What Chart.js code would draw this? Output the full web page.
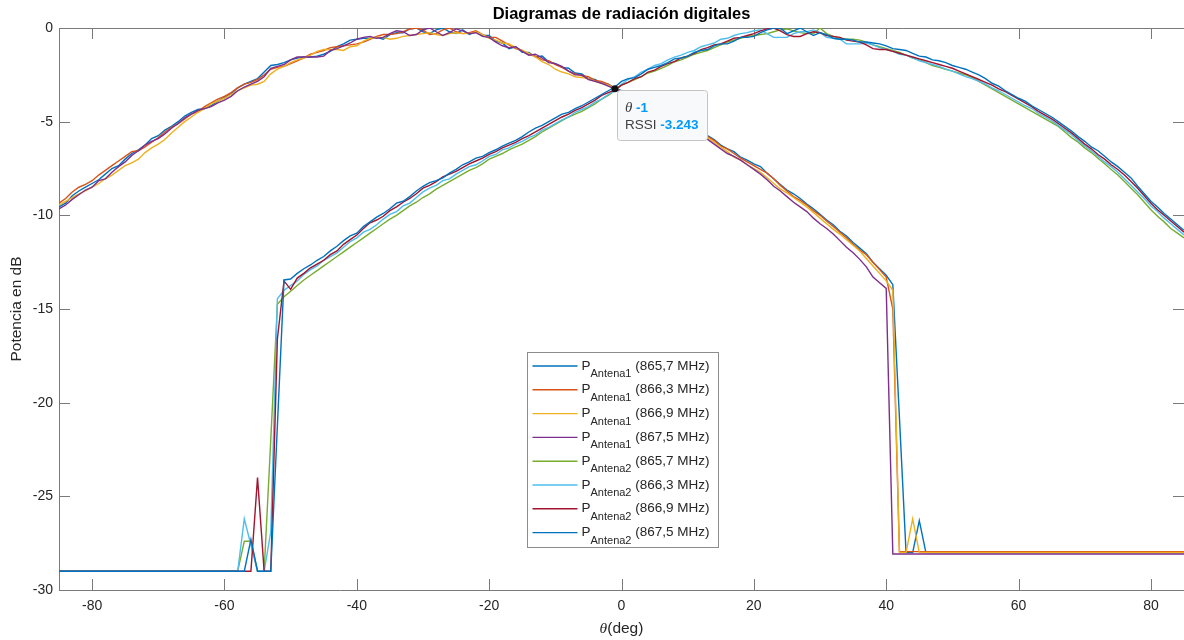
<!DOCTYPE html>
<html lang="es">
<head>
<meta charset="utf-8">
<title>Diagramas de radiación digitales</title>
<script src="https://cdn.jsdelivr.net/npm/chart.js@4.4.1/dist/chart.umd.min.js"></script>
<style>
  html, body { margin: 0; padding: 0; background: #ffffff; }
  #grafico { display: block; }
</style>
</head>
<body>
<canvas id="grafico" width="1184" height="640"></canvas>
<script>
// Ángulos de medida (grados)
const thetaDeg = [
  -85, -84, -83, -82, -81, -80, -79, -78, -77, -76,
  -75, -74, -73, -72, -71, -70, -69, -68, -67, -66,
  -65, -64, -63, -62, -61, -60, -59, -58, -57, -56,
  -55, -54, -53, -52, -51, -50, -49, -48, -47, -46,
  -45, -44, -43, -42, -41, -40, -39, -38, -37, -36,
  -35, -34, -33, -32, -31, -30, -29, -28, -27, -26,
  -25, -24, -23, -22, -21, -20, -19, -18, -17, -16,
  -15, -14, -13, -12, -11, -10, -9, -8, -7, -6,
  -5, -4, -3, -2, -1, 0, 1, 2, 3, 4,
  5, 6, 7, 8, 9, 10, 11, 12, 13, 14,
  15, 16, 17, 18, 19, 20, 21, 22, 23, 24,
  25, 26, 27, 28, 29, 30, 31, 32, 33, 34,
  35, 36, 37, 38, 39, 40, 41, 42, 43, 44,
  45, 46, 47, 48, 49, 50, 51, 52, 53, 54,
  55, 56, 57, 58, 59, 60, 61, 62, 63, 64,
  65, 66, 67, 68, 69, 70, 71, 72, 73, 74,
  75, 76, 77, 78, 79, 80, 81, 82, 83, 84,
  85
];

// Antena 1, potencia normalizada (dB)
const ant1_8657 = [
  -9.55, -9.35, -8.95, -8.7, -8.5, -8.3, -8.1, -7.8, -7.5, -7.35,
  -7.0, -6.7, -6.5, -6.25, -5.9, -5.75, -5.45, -5.25, -5.0, -4.7,
  -4.5, -4.35, -4.3, -4.15, -3.9, -3.7, -3.5, -3.2, -3.0, -2.85,
  -2.7, -2.35, -2.0, -1.95, -1.85, -1.7, -1.6, -1.55, -1.55, -1.5,
  -1.4, -1.25, -1.0, -0.85, -0.65, -0.6, -0.55, -0.55, -0.5, -0.6,
  -0.35, -0.25, -0.25, -0.05, 0, -0.2, -0.3, -0.1, 0, -0.2,
  -0.3, -0.1, -0.35, -0.2, -0.4, -0.4, -0.7, -0.8, -1.1, -1.0,
  -1.3, -1.3, -1.55, -1.5, -1.8, -1.9, -2.1, -2.15, -2.4, -2.45,
  -2.7, -2.75, -2.95, -3.0, -3.2, -3.35, -3.5, -3.7, -3.8, -4.0,
  -4.15, -4.35, -4.5, -4.7, -4.85, -5.05, -5.25, -5.5, -5.75, -5.95,
  -6.25, -6.45, -6.6, -6.9, -7.05, -7.25, -7.4, -7.75, -8.05, -8.35,
  -8.65, -8.85, -9.1, -9.4, -9.65, -9.95, -10.25, -10.5, -10.85, -11.1,
  -11.45, -11.75, -12.05, -12.5, -12.85, -13.2, -13.7, -20.8, -28, -28,
  -26.3, -28, -28, -28, -28, -28, -28, -28, -28, -28,
  -28, -28, -28, -28, -28, -28, -28, -28, -28, -28,
  -28, -28, -28, -28, -28, -28, -28, -28, -28, -28,
  -28, -28, -28, -28, -28, -28, -28, -28, -28, -28,
  -28
];

const ant1_8663 = [
  -9.35, -9.1, -8.75, -8.5, -8.35, -8.15, -7.85, -7.6, -7.35, -7.1,
  -6.85, -6.6, -6.55, -6.35, -6.1, -5.85, -5.55, -5.3, -5.1, -4.85,
  -4.6, -4.45, -4.2, -4.0, -3.8, -3.65, -3.45, -3.2, -3.0, -2.9,
  -2.75, -2.5, -2.2, -2.1, -2.05, -1.9, -1.75, -1.6, -1.4, -1.3,
  -1.2, -1.05, -1.0, -0.95, -0.9, -0.85, -0.75, -0.6, -0.45, -0.35,
  -0.35, -0.3, -0.2, -0.05, 0, -0.1, -0.35, -0.3, -0.1, 0,
  -0.2, -0.3, -0.25, -0.15, -0.35, -0.5, -0.5, -0.7, -0.9, -1.1,
  -1.2, -1.4, -1.5, -1.7, -1.75, -1.95, -2.1, -2.3, -2.45, -2.55,
  -2.6, -2.8, -2.85, -3.0, -3.25, -3.4, -3.55, -3.75, -3.9, -4.05,
  -4.2, -4.4, -4.55, -4.7, -4.95, -5.1, -5.3, -5.5, -5.8, -6.0,
  -6.3, -6.45, -6.7, -6.95, -7.15, -7.35, -7.55, -7.75, -8.05, -8.4,
  -8.7, -9.0, -9.2, -9.45, -9.75, -10.0, -10.3, -10.6, -10.9, -11.2,
  -11.55, -11.85, -12.1, -12.5, -12.9, -13.3, -15.0, -27.95, -27.95, -27.95,
  -27.95, -27.95, -27.95, -27.95, -27.95, -27.95, -27.95, -27.95, -27.95, -27.95,
  -27.95, -27.95, -27.95, -27.95, -27.95, -27.95, -27.95, -27.95, -27.95, -27.95,
  -27.95, -27.95, -27.95, -27.95, -27.95, -27.95, -27.95, -27.95, -27.95, -27.95,
  -27.95, -27.95, -27.95, -27.95, -27.95, -27.95, -27.95, -27.95, -27.95, -27.95,
  -27.95
];

const ant1_8669 = [
  -9.45, -9.25, -9.05, -8.85, -8.7, -8.5, -8.3, -8.05, -7.85, -7.6,
  -7.35, -7.2, -7.0, -6.65, -6.4, -6.2, -5.95, -5.6, -5.3, -5.0,
  -4.75, -4.5, -4.3, -4.05, -3.9, -3.75, -3.55, -3.35, -3.2, -3.05,
  -3.0, -2.85, -2.45, -2.2, -2.05, -1.85, -1.7, -1.6, -1.45, -1.25,
  -1.15, -1.15, -1.15, -1.2, -1.0, -0.95, -0.7, -0.55, -0.5, -0.5,
  -0.6, -0.55, -0.45, -0.4, -0.35, -0.3, -0.25, -0.35, -0.4, -0.3,
  -0.25, -0.3, -0.3, -0.2, -0.35, -0.55, -0.65, -0.8, -0.85, -1.05,
  -1.2, -1.35, -1.55, -1.8, -1.95, -2.2, -2.35, -2.45, -2.6, -2.65,
  -2.7, -2.85, -2.95, -3.05, -3.2, -3.45, -3.6, -3.75, -3.95, -4.1,
  -4.3, -4.45, -4.6, -4.8, -4.95, -5.15, -5.35, -5.6, -5.85, -6.1,
  -6.35, -6.6, -6.9, -7.05, -7.3, -7.5, -7.7, -8.0, -8.3, -8.6,
  -8.8, -9.05, -9.3, -9.55, -9.85, -10.15, -10.45, -10.75, -11.0, -11.3,
  -11.6, -11.9, -12.3, -12.7, -13.1, -13.5, -14.0, -28, -28, -26.2,
  -28, -28, -28, -28, -28, -28, -28, -28, -28, -28,
  -28, -28, -28, -28, -28, -28, -28, -28, -28, -28,
  -28, -28, -28, -28, -28, -28, -28, -28, -28, -28,
  -28, -28, -28, -28, -28, -28, -28, -28, -28, -28,
  -28
];

const ant1_8675 = [
  -9.65, -9.45, -9.15, -8.9, -8.65, -8.5, -8.15, -8.05, -7.7, -7.4,
  -7.15, -6.8, -6.55, -6.25, -6.05, -5.9, -5.65, -5.35, -5.1, -4.8,
  -4.6, -4.4, -4.3, -4.2, -4.0, -3.85, -3.65, -3.35, -3.15, -3.0,
  -2.85, -2.6, -2.15, -2.05, -1.95, -1.7, -1.55, -1.55, -1.55, -1.55,
  -1.5, -1.2, -1.1, -0.95, -0.8, -0.6, -0.5, -0.45, -0.55, -0.5,
  -0.3, -0.15, -0.2, -0.4, -0.35, -0.1, 0, -0.2, -0.4, -0.25,
  -0.05, -0.15, -0.3, -0.25, -0.45, -0.5, -0.75, -0.95, -1.05, -1.0,
  -1.25, -1.45, -1.4, -1.6, -1.85, -1.9, -2.05, -2.3, -2.5, -2.5,
  -2.75, -2.85, -2.95, -3.1, -3.243, -3.4, -3.6, -3.8, -3.95, -4.15,
  -4.3, -4.5, -4.7, -4.85, -5.05, -5.3, -5.55, -5.75, -5.95, -6.2,
  -6.45, -6.7, -6.85, -7.05, -7.3, -7.55, -7.8, -8.1, -8.45, -8.7,
  -9.0, -9.3, -9.55, -9.8, -10.15, -10.45, -10.7, -11.0, -11.35, -11.7,
  -12.0, -12.35, -12.75, -13.3, -13.6, -13.9, -28.08, -28.08, -28.08, -28.08,
  -28.08, -28.08, -28.08, -28.08, -28.08, -28.08, -28.08, -28.08, -28.08, -28.08,
  -28.08, -28.08, -28.08, -28.08, -28.08, -28.08, -28.08, -28.08, -28.08, -28.08,
  -28.08, -28.08, -28.08, -28.08, -28.08, -28.08, -28.08, -28.08, -28.08, -28.08,
  -28.08, -28.08, -28.08, -28.08, -28.08, -28.08, -28.08, -28.08, -28.08, -28.08,
  -28.08
];

// Antena 2, potencia normalizada (dB)
const ant2_8657 = [
  -29, -29, -29, -29, -29, -29, -29, -29, -29, -29,
  -29, -29, -29, -29, -29, -29, -29, -29, -29, -29,
  -29, -29, -29, -29, -29, -29, -29, -29, -27.4, -27.4,
  -29, -29, -22, -14.75, -14.35, -14.05, -13.75, -13.45, -13.2, -12.95,
  -12.7, -12.45, -12.2, -11.95, -11.7, -11.45, -11.2, -10.95, -10.7, -10.45,
  -10.2, -10.0, -9.75, -9.5, -9.3, -9.05, -8.85, -8.6, -8.4, -8.2,
  -8.0, -7.8, -7.6, -7.45, -7.25, -7.0, -6.85, -6.7, -6.5, -6.35,
  -6.2, -6.0, -5.8, -5.55, -5.35, -5.15, -4.95, -4.75, -4.6, -4.45,
  -4.25, -4.05, -3.8, -3.6, -3.35, -3.05, -2.9, -2.75, -2.6, -2.4,
  -2.3, -2.15, -2.0, -1.8, -1.7, -1.55, -1.4, -1.3, -1.2, -1.05,
  -0.9, -0.75, -0.65, -0.55, -0.45, -0.4, -0.35, -0.3, -0.2, -0.1,
  -0.05, -0.15, -0.25, -0.3, -0.3, 0, -0.3, -0.45, -0.55, -0.6,
  -0.6, -0.65, -0.75, -0.9, -1.0, -1.1, -1.2, -1.3, -1.45, -1.6,
  -1.7, -1.85, -2.0, -2.1, -2.2, -2.3, -2.4, -2.5, -2.65, -2.85,
  -3.05, -3.25, -3.45, -3.65, -3.85, -4.05, -4.25, -4.45, -4.65, -4.85,
  -5.05, -5.25, -5.55, -5.85, -6.1, -6.4, -6.65, -6.95, -7.25, -7.55,
  -7.85, -8.2, -8.55, -8.9, -9.3, -9.7, -10.05, -10.35, -10.7, -10.95,
  -11.2
];

const ant2_8663 = [
  -29, -29, -29, -29, -29, -29, -29, -29, -29, -29,
  -29, -29, -29, -29, -29, -29, -29, -29, -29, -29,
  -29, -29, -29, -29, -29, -29, -29, -29, -26.2, -27.6,
  -29, -29, -26.9, -14.45, -14.0, -13.75, -13.5, -13.15, -12.9, -12.7,
  -12.4, -12.2, -12.0, -11.7, -11.4, -11.2, -10.9, -10.75, -10.5, -10.2,
  -9.95, -9.8, -9.5, -9.35, -9.05, -8.75, -8.55, -8.4, -8.15, -8.05,
  -7.8, -7.6, -7.4, -7.3, -7.1, -6.85, -6.75, -6.5, -6.4, -6.2,
  -6.05, -5.85, -5.7, -5.45, -5.3, -5.1, -4.9, -4.75, -4.5, -4.35,
  -4.2, -3.95, -3.8, -3.55, -3.35, -3.0, -2.75, -2.6, -2.35, -2.2,
  -2.0, -1.9, -1.7, -1.55, -1.45, -1.3, -1.2, -1.0, -0.9, -0.8,
  -0.6, -0.55, -0.4, -0.3, -0.25, -0.15, -0.1, -0.3, -0.5, -0.5,
  -0.5, -0.3, -0.2, -0.2, -0.1, -0.25, -0.5, -0.55, -0.6, -0.85,
  -0.85, -0.85, -0.8, -0.9, -1.05, -1.15, -1.25, -1.4, -1.45, -1.6,
  -1.75, -1.85, -1.95, -2.05, -2.2, -2.3, -2.45, -2.6, -2.7, -2.85,
  -3.0, -3.2, -3.35, -3.55, -3.75, -3.95, -4.15, -4.3, -4.55, -4.75,
  -4.95, -5.2, -5.45, -5.7, -6.0, -6.3, -6.55, -6.85, -7.15, -7.4,
  -7.7, -8.05, -8.4, -8.75, -9.1, -9.5, -9.8, -10.15, -10.45, -10.75,
  -11.05
];

const ant2_8669 = [
  -29, -29, -29, -29, -29, -29, -29, -29, -29, -29,
  -29, -29, -29, -29, -29, -29, -29, -29, -29, -29,
  -29, -29, -29, -29, -29, -29, -29, -29, -29, -29,
  -24.0, -29, -29, -16.6, -13.5, -13.95, -13.35, -13.1, -12.8, -12.6,
  -12.4, -12.1, -11.9, -11.55, -11.3, -11.05, -10.7, -10.4, -10.25, -10.05,
  -9.75, -9.55, -9.3, -9.1, -8.85, -8.55, -8.4, -8.2, -7.95, -7.8,
  -7.65, -7.45, -7.25, -7.1, -6.95, -6.75, -6.6, -6.4, -6.25, -6.1,
  -5.9, -5.75, -5.55, -5.35, -5.15, -4.95, -4.75, -4.6, -4.4, -4.25,
  -4.05, -3.85, -3.6, -3.45, -3.3, -3.05, -2.9, -2.7, -2.6, -2.35,
  -2.25, -2.05, -1.9, -1.8, -1.6, -1.5, -1.35, -1.15, -1.05, -0.9,
  -0.85, -0.7, -0.55, -0.5, -0.4, -0.3, -0.15, -0.05, 0, -0.15,
  -0.35, -0.45, -0.45, -0.3, -0.2, -0.25, -0.4, -0.45, -0.5, -0.65,
  -0.7, -0.75, -0.9, -1.1, -1.15, -1.15, -1.25, -1.35, -1.45, -1.55,
  -1.65, -1.75, -1.85, -1.95, -2.05, -2.15, -2.3, -2.45, -2.6, -2.75,
  -2.9, -3.05, -3.25, -3.4, -3.6, -3.8, -4.0, -4.2, -4.45, -4.65,
  -4.85, -5.1, -5.35, -5.6, -5.9, -6.2, -6.45, -6.75, -7.0, -7.3,
  -7.55, -7.85, -8.2, -8.55, -8.95, -9.35, -9.7, -10.0, -10.3, -10.6,
  -10.9
];

const ant2_8675 = [
  -29, -29, -29, -29, -29, -29, -29, -29, -29, -29,
  -29, -29, -29, -29, -29, -29, -29, -29, -29, -29,
  -29, -29, -29, -29, -29, -29, -29, -29, -29, -27.3,
  -29, -29, -29, -21.25, -13.45, -13.4, -13.1, -12.85, -12.65, -12.4,
  -12.2, -11.9, -11.65, -11.35, -11.1, -10.95, -10.6, -10.35, -10.1, -9.9,
  -9.65, -9.35, -9.25, -9.0, -8.7, -8.45, -8.25, -8.15, -8.0, -7.75,
  -7.55, -7.3, -7.15, -6.95, -6.85, -6.65, -6.5, -6.3, -6.15, -6.0,
  -5.8, -5.55, -5.35, -5.2, -5.0, -4.8, -4.6, -4.5, -4.3, -4.15,
  -3.95, -3.75, -3.55, -3.35, -3.15, -2.85, -2.7, -2.65, -2.45, -2.2,
  -2.1, -2.0, -1.85, -1.65, -1.6, -1.5, -1.3, -1.2, -1.15, -0.95,
  -0.85, -0.85, -0.7, -0.5, -0.5, -0.45, -0.25, -0.1, 0, 0,
  -0.3, -0.15, 0, -0.2, -0.4, -0.25, -0.35, -0.55, -0.6, -0.6,
  -0.65, -0.75, -0.75, -0.8, -0.85, -0.95, -1.1, -1.15, -1.2, -1.35,
  -1.5, -1.55, -1.7, -1.75, -1.85, -2.0, -2.1, -2.2, -2.35, -2.5,
  -2.7, -2.95, -3.1, -3.35, -3.55, -3.75, -3.9, -4.15, -4.35, -4.55,
  -4.75, -5.0, -5.25, -5.5, -5.8, -6.05, -6.35, -6.55, -6.85, -7.15,
  -7.4, -7.7, -8.0, -8.45, -8.85, -9.25, -9.55, -9.9, -10.2, -10.5,
  -10.8
];

const seriesValues = [ant1_8657, ant1_8663, ant1_8669, ant1_8675, ant2_8657, ant2_8663, ant2_8669, ant2_8675];
const seriesAntenna = ['Antena1', 'Antena1', 'Antena1', 'Antena1', 'Antena2', 'Antena2', 'Antena2', 'Antena2'];
const seriesFreq = ['(865,7 MHz)', '(866,3 MHz)', '(866,9 MHz)', '(867,5 MHz)', '(865,7 MHz)', '(866,3 MHz)', '(866,9 MHz)', '(867,5 MHz)'];
const seriesColors = ['#0072BD', '#D95319', '#EDB120', '#7E2F8E', '#77AC30', '#4DBEEE', '#A2142F', '#0072BD'];

const xTicks = [-80, -60, -40, -20, 0, 20, 40, 60, 80];
const yTicks = [-30, -25, -20, -15, -10, -5, 0];

// punto marcado con el datatip
const tipSeries = 3;
const tipTheta = -1;

const SANS = "'Liberation Sans', Arial, Helvetica, sans-serif";
const SERIF = "'Liberation Serif', 'DejaVu Serif', serif";
const TEXT_COLOR = '#262626';
const AXIS_COLOR = '#7a7a7a';
const TICK_LEN = 11;

// ejes tipo MATLAB: caja y marcas hacia dentro
const boxAxes = {
  id: 'boxAxes',
  beforeDatasetsDraw(chart) {
    const { ctx, chartArea: a, scales: { x, y } } = chart;
    ctx.save();
    ctx.strokeStyle = AXIS_COLOR;
    ctx.lineWidth = 1;
    ctx.beginPath();
    ctx.moveTo(a.left, a.top + 0.5);
    ctx.lineTo(a.right, a.top + 0.5);
    x.ticks.forEach(t => {
      const px = Math.round(x.getPixelForValue(t.value)) + 0.5;
      ctx.moveTo(px, a.bottom);
      ctx.lineTo(px, a.bottom - TICK_LEN);
      ctx.moveTo(px, a.top);
      ctx.lineTo(px, a.top + TICK_LEN);
    });
    y.ticks.forEach(t => {
      const py = Math.round(y.getPixelForValue(t.value)) + 0.5;
      ctx.moveTo(a.left, py);
      ctx.lineTo(a.left + TICK_LEN, py);
      ctx.moveTo(a.right, py);
      ctx.lineTo(a.right - TICK_LEN, py);
    });
    ctx.stroke();
    ctx.restore();
  }
};

// leyenda con subíndices
const legendBox = {
  id: 'legendBox',
  afterDatasetsDraw(chart) {
    const { ctx } = chart;
    const bx = 527.5, by = 352.5, bw = 191, bh = 195, rowH = 23.8;
    ctx.save();
    ctx.fillStyle = '#ffffff';
    ctx.fillRect(bx, by, bw, bh);
    ctx.strokeStyle = '#8c8c8c';
    ctx.lineWidth = 1;
    ctx.strokeRect(bx, by, bw, bh);
    seriesValues.forEach((_, i) => {
      const ly = by + 13.5 + i * rowH;
      ctx.strokeStyle = seriesColors[i];
      ctx.lineWidth = 1.4;
      ctx.beginPath();
      ctx.moveTo(bx + 5, ly);
      ctx.lineTo(bx + 50, ly);
      ctx.stroke();
      ctx.fillStyle = TEXT_COLOR;
      ctx.textBaseline = 'alphabetic';
      let tx = bx + 54;
      ctx.font = `13.5px ${SANS}`;
      ctx.fillText('P', tx, ly + 3.5);
      tx += ctx.measureText('P').width;
      ctx.font = `11px ${SANS}`;
      ctx.fillText(seriesAntenna[i], tx, ly + 11);
      tx += ctx.measureText(seriesAntenna[i]).width;
      ctx.font = `13.5px ${SANS}`;
      tx += ctx.measureText(' ').width;
      ctx.fillText(seriesFreq[i], tx, ly + 3.5);
    });
    ctx.restore();
  }
};

// datatip sobre un punto de la serie
const dataTip = {
  id: 'dataTip',
  afterDatasetsDraw(chart) {
    const { ctx, scales: { x, y } } = chart;
    const k = thetaDeg.indexOf(tipTheta);
    const val = seriesValues[tipSeries][k];
    const px = x.getPixelForValue(tipTheta);
    const py = y.getPixelForValue(val);
    ctx.save();
    const bx = Math.round(px) + 2.5, by = Math.round(py) + 1.5, bw = 90, bh = 50;
    ctx.fillStyle = '#f8f9fb';
    ctx.strokeStyle = '#c4c4c4';
    ctx.lineWidth = 1;
    ctx.beginPath();
    ctx.roundRect(bx, by, bw, bh, 3);
    ctx.fill();
    ctx.stroke();
    ctx.beginPath();
    ctx.arc(px, py, 3.5, 0, Math.PI * 2);
    ctx.fillStyle = '#111111';
    ctx.fill();

    ctx.textBaseline = 'alphabetic';
    let tx = bx + 7.5;
    ctx.fillStyle = '#404040';
    ctx.font = `italic 15px ${SERIF}`;
    ctx.fillText('θ', tx, by + 21.5);
    tx += ctx.measureText('θ').width;
    ctx.font = `13.5px ${SANS}`;
    tx += ctx.measureText(' ').width;
    ctx.fillStyle = '#0099ff';
    ctx.font = `bold 13.5px ${SANS}`;
    ctx.fillText(String(tipTheta), tx, by + 21.5);

    tx = bx + 7.5;
    ctx.fillStyle = '#404040';
    ctx.font = `13.5px ${SANS}`;
    ctx.fillText('RSSI', tx, by + 38);
    tx += ctx.measureText('RSSI ').width;
    ctx.fillStyle = '#0099ff';
    ctx.font = `bold 13.5px ${SANS}`;
    ctx.fillText(val.toFixed(3), tx, by + 38);
    ctx.restore();
  }
};

// título del eje x con theta en cursiva
const xTitle = {
  id: 'xTitle',
  afterDraw(chart) {
    const { ctx, chartArea: a } = chart;
    ctx.save();
    ctx.fillStyle = TEXT_COLOR;
    ctx.textBaseline = 'alphabetic';
    ctx.font = `italic 15.5px ${SERIF}`;
    const w1 = ctx.measureText('θ').width;
    ctx.font = `15.5px ${SANS}`;
    const w2 = ctx.measureText('(deg)').width;
    const cx = (a.left + a.right) / 2;
    const tx = cx - (w1 + w2) / 2;
    ctx.font = `italic 15.5px ${SERIF}`;
    ctx.fillText('θ', tx, 633);
    ctx.font = `15.5px ${SANS}`;
    ctx.fillText('(deg)', tx + w1, 633);
    ctx.restore();
  }
};

const datasets = seriesValues.map((vals, i) => ({
  label: 'P' + seriesAntenna[i] + ' ' + seriesFreq[i],
  data: thetaDeg.map((t, k) => ({ x: t, y: vals[k] })),
  borderColor: seriesColors[i],
  backgroundColor: seriesColors[i],
  borderWidth: 1.4,
  pointRadius: 0,
  pointHoverRadius: 0,
  tension: 0,
  fill: false,
  order: seriesValues.length - i
}));

new Chart(document.getElementById('grafico'), {
  type: 'line',
  data: { datasets },
  options: {
    responsive: false,
    animation: false,
    devicePixelRatio: 1,
    layout: { padding: { left: 0, right: -1, top: 0, bottom: 0 } },
    plugins: {
      legend: { display: false },
      tooltip: { enabled: false },
      title: {
        display: true,
        fullSize: false,
        text: 'Diagramas de radiación digitales',
        color: '#000000',
        font: { family: SANS, size: 16.5, weight: 'bold' },
        padding: { top: 4.5, bottom: 3.7 }
      }
    },
    scales: {
      x: {
        type: 'linear',
        min: -85,
        max: 85,
        grid: { display: false, drawTicks: false },
        border: { display: true, color: AXIS_COLOR, width: 1 },
        ticks: { font: { family: SANS, size: 14 }, color: TEXT_COLOR, padding: 8, maxRotation: 0 },
        afterBuildTicks: s => { s.ticks = xTicks.map(v => ({ value: v })); },
        afterFit: s => { s.height = 50; }
      },
      y: {
        type: 'linear',
        min: -30,
        max: 0,
        grid: { display: false, drawTicks: false },
        border: { display: true, color: AXIS_COLOR, width: 1 },
        ticks: { font: { family: SANS, size: 14 }, color: TEXT_COLOR, padding: 6 },
        afterBuildTicks: s => { s.ticks = yTicks.map(v => ({ value: v })); },
        title: {
          display: true,
          text: 'Potencia en dB',
          color: TEXT_COLOR,
          font: { family: SANS, size: 15.5 },
          padding: { top: 7, bottom: 0 }
        },
        afterFit: s => { s.width = 59; }
      }
    }
  },
  plugins: [boxAxes, legendBox, dataTip, xTitle]
});
</script>
</body>
</html>
